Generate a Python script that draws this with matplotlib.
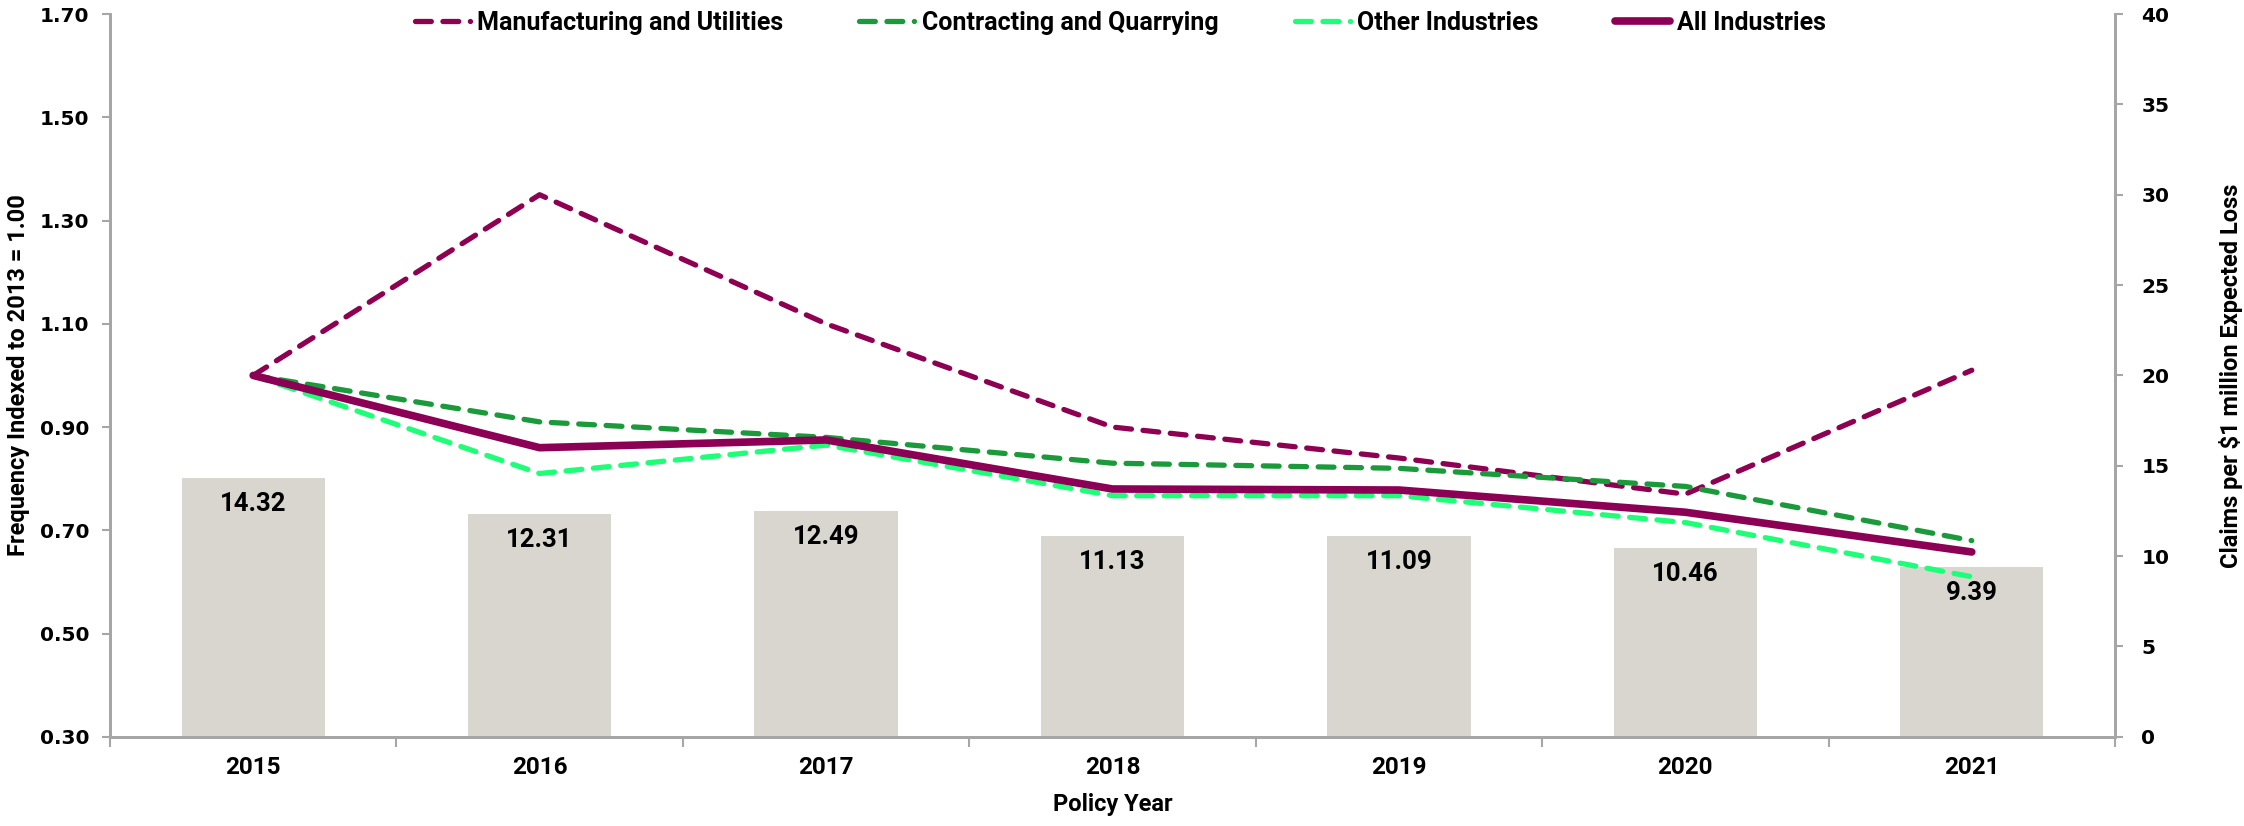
import matplotlib
matplotlib.use("Agg")
from matplotlib import pyplot as plt
import numpy as np

# Data
years = ["2015", "2016", "2017", "2018", "2019", "2020", "2021"]

claims_per_million = [14.32, 12.31, 12.49, 11.13, 11.09, 10.46, 9.39]

manufacturing = [1.00, 1.35, 1.10, 0.90, 0.84, 0.77, 1.01]
contracting = [1.00, 0.91, 0.88, 0.83, 0.82, 0.785, 0.68]
other = [1.00, 0.81, 0.865, 0.767, 0.767, 0.715, 0.61]
all_ind = [1.00, 0.86, 0.875, 0.78, 0.778, 0.735, 0.658]

x = np.arange(len(years))

label_font = ["Roboto", "DejaVu Sans"]
tick_font = "DejaVu Sans"
grey = "#A6A6A6"

fig = plt.figure(figsize=(22.44, 8.26), dpi=100)
ax1 = fig.add_axes([0.049, 0.108, 0.8935, 0.875])
ax2 = ax1.twinx()

# bars behind the lines
ax1.set_zorder(ax2.get_zorder() + 1)
ax1.patch.set_visible(False)

ax2.bar(x, claims_per_million, width=0.5, color="#D9D6CF")
for i, v in enumerate(claims_per_million):
    ax2.annotate(f"{v:.2f}", xy=(i, v), xytext=(0, -10), textcoords="offset points",
                 ha="center", va="top", fontsize=18.5, fontweight="bold", family=label_font)

ax1.plot(x, manufacturing, color="#8E0052", lw=3.8, linestyle=(0, (3, 2.2)),
         dash_capstyle="round", label="Manufacturing and Utilities")
ax1.plot(x, contracting, color="#1A9A3A", lw=3.8, linestyle=(0, (3, 2.2)),
         dash_capstyle="round", label="Contracting and Quarrying")
ax1.plot(x, other, color="#1EFF78", lw=3.8, linestyle=(0, (3, 2.2)),
         dash_capstyle="round", label="Other Industries")
ax1.plot(x, all_ind, color="#8B0054", lw=5.5, solid_capstyle="round",
         label="All Industries")

# axes limits and ticks
ax1.set_xlim(-0.5, len(years) - 0.5)
ax1.set_ylim(0.30, 1.70)
ax1.set_yticks(np.arange(0.30, 1.71, 0.20))
ax1.set_yticklabels([f"{t:.2f}" for t in np.arange(0.30, 1.71, 0.20)])
ax2.set_ylim(0, 40)
ax2.set_yticks(range(0, 41, 5))

ax1.set_xticks(x)
ax1.set_xticklabels(years)
ax1.set_xticks(np.arange(-0.5, len(years), 1.0), minor=True)
ax1.tick_params(axis="x", which="major", length=0, pad=14)
ax1.tick_params(axis="x", which="minor", length=7, width=1.5, color=grey)

ax1.tick_params(axis="y", which="major", length=6, width=1.5, color=grey, pad=9)
ax2.tick_params(axis="y", which="major", length=6, width=1.5, color=grey, pad=13)
for ax in (ax1, ax2):
    for lab in ax.get_yticklabels():
        lab.set_fontfamily(tick_font)
        lab.set_fontweight("bold")
        lab.set_fontsize(14.5)
    ax.spines["top"].set_visible(False)
    for s in ("left", "right", "bottom"):
        ax.spines[s].set_color(grey)
        ax.spines[s].set_linewidth(2)

for lab in ax1.get_xticklabels():
    lab.set_fontfamily(label_font)
    lab.set_fontweight("bold")
    lab.set_fontsize(17.5)

# Formating
ax1.set_xlabel("Policy Year", fontsize=17, fontweight="bold", family=label_font, labelpad=10)
ax1.set_ylabel("Frequency Indexed to 2013 = 1.00", fontsize=17, fontweight="bold",
               family=label_font)
ax1.yaxis.set_label_coords(-0.04, 0.5)
ax2.set_ylabel("Claims per $1 million Expected Loss", fontsize=17, fontweight="bold",
               family=label_font)
ax2.yaxis.set_label_coords(1.052, 0.5)

leg = ax1.legend(loc="upper center", bbox_to_anchor=(0.504, 1.035), ncol=4, frameon=False,
                 handlelength=2.2, columnspacing=3.05, handletextpad=0.3,
                 prop={"family": label_font, "weight": "bold", "size": 18})

fig.savefig("out.png", dpi=100)
